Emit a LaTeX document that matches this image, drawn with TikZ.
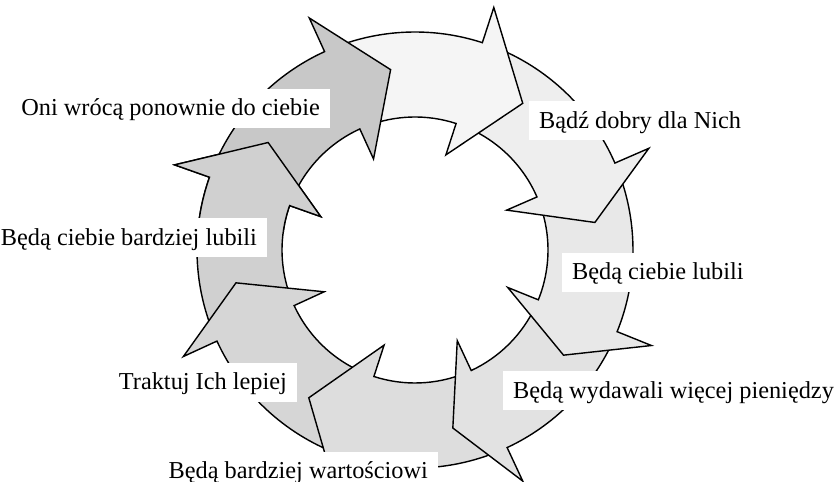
\documentclass[tikz,border=0pt]{standalone}
\usepackage{fontspec}
\setmainfont{Liberation Serif}
\tikzset{
    lbl/.style={fill=white, inner xsep=0.26cm, inner ysep=0pt, minimum height=0.975cm,
        text height=12pt, text depth=1.4pt, font=\fontsize{17.3}{20}\selectfont}
}
\begin{document}
\begin{tikzpicture}[line width=1pt]
    \useasboundingbox (-10.375,-5.8) rectangle (10.5,6.25);
    \def\ringarrow#1#2#3{(#1:5.45) arc[start angle=#1, end angle=#2, radius=5.45]
        -- (#2:6.375) -- (#3:4.55) -- (#2:2.5) -- (#2:3.325)
        arc[start angle=#2, end angle=#1, radius=3.325] -- cycle}

    \filldraw[fill=black!18.5] \ringarrow{201.7}{160.5}{143.8};
    \filldraw[fill=black!16] \ringarrow{-111}{-155.3}{-169.6};
    \filldraw[fill=black!13.5] \ringarrow{-68}{-108}{-125.7};
    \filldraw[fill=black!11.5] \ringarrow{-25}{-65}{-78};
    \filldraw[fill=black!9] \ringarrow{20.5}{-22}{-35.3};
    \filldraw[fill=black!6.5] \ringarrow{69}{23.5}{8.7};
    \filldraw[fill=black!4] \ringarrow{111.5}{72}{53.7};
    \filldraw[fill=black!21.5] \ringarrow{157.5}{114.5}{97.7};

    \begin{scope}
        \clip (0,0) -- (138:8) arc[start angle=138, end angle=172, radius=8] -- cycle;
        \filldraw[fill=black!18.5] \ringarrow{201.7}{160.5}{143.8};
    \end{scope}

    \node[lbl, anchor=east] (oni) at (-2.1,3.54) {Oni wrócą ponownie do ciebie};
    \node[lbl, anchor=east] (bardziejlubili) at (-3.675,0.31) {Będą ciebie bardziej lubili};
    \node[lbl, anchor=east] (traktuj) at (-2.925,-3.31) {Traktuj Ich lepiej};
    \node[lbl, anchor=east] (wartosciowi) at (0.6,-5.53) {Będą bardziej wartościowi};
    \node[lbl, anchor=west] (wydawali) at (2.175,-3.525) {Będą wydawali więcej pieniędzy};
    \node[lbl, anchor=west] (lubili) at (3.65,-0.56) {Będą ciebie lubili};
    \node[lbl, anchor=west] (dobry) at (2.825,3.225) {Bądź dobry dla Nich};
\end{tikzpicture}
\end{document}
